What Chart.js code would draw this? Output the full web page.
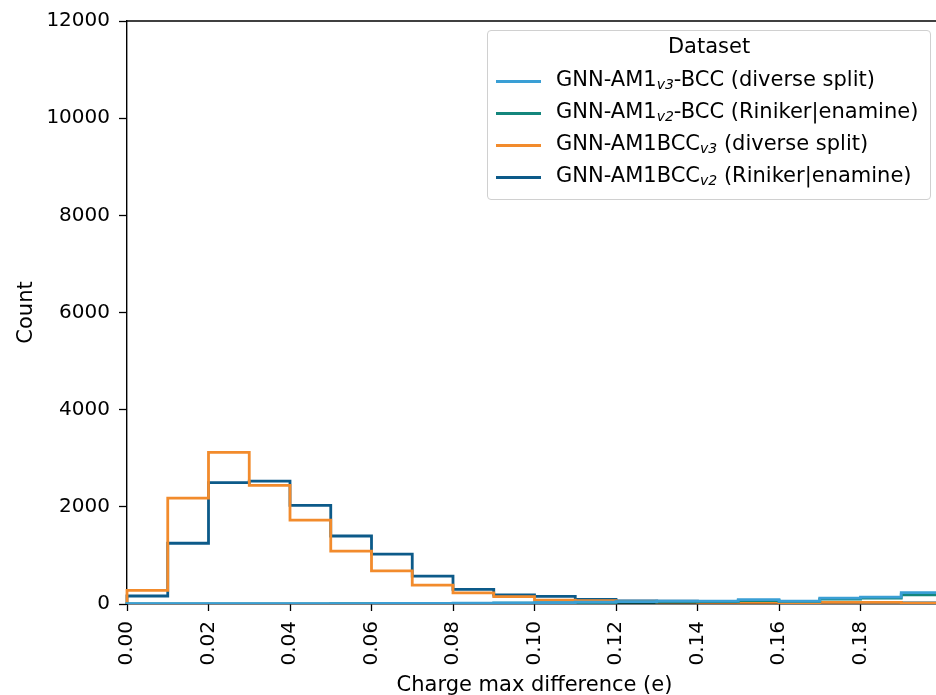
<!DOCTYPE html>
<html>
<head>
<meta charset="utf-8">
<script src="https://cdn.jsdelivr.net/npm/chart.js@4.4.1/dist/chart.umd.min.js"></script>
<style>
  html, body { margin: 0; padding: 0; background: #fff; overflow: hidden; }
  #wrap { position: relative; width: 936px; height: 695px; overflow: hidden; }
  #chart { position: absolute; left: 0; top: 0; }
  #legend {
    position: absolute; left: 487px; top: 30px; width: 444px; height: 170px;
    border: 1px solid #d0d0d0; border-radius: 4px; background: rgba(255,255,255,0.8);
    font-family: "DejaVu Sans", sans-serif; font-size: 21px; color: #000; box-sizing: border-box;
  }
  #legend .title { text-align: center; margin-top: 3px; height: 33px; }
  #legend .row { position: relative; height: 32px; white-space: nowrap; }
  #legend .swatch { position: absolute; left: 8px; top: 13px; width: 45px; height: 3px; }
  #legend .text { position: absolute; left: 68px; top: 0; }
  #legend sub { font-size: 14px; font-style: italic; vertical-align: -3px; }
</style>
</head>
<body>
<div id="wrap">
  <canvas id="chart" width="950" height="695"></canvas>
  <div id="legend"></div>
</div>
<script>
// Histogram bin edges (charge max difference, e)
const binEdges = [0, 0.01, 0.02, 0.03, 0.04, 0.05, 0.06, 0.07, 0.08, 0.09, 0.10,
  0.11, 0.12, 0.13, 0.14, 0.15, 0.16, 0.17, 0.18, 0.19, 0.20];

// Counts per bin
const am1v3Diverse = [5, 5, 5, 5, 5, 8, 10, 12, 20, 25, 30, 40, 50, 60, 60, 90, 60, 120, 140, 235];
const am1v2Riniker = [3, 3, 3, 3, 4, 5, 6, 8, 12, 18, 22, 30, 40, 45, 50, 70, 55, 100, 120, 190];
const bccV3Diverse = [280, 2180, 3120, 2440, 1725, 1090, 680, 390, 230, 150, 80, 70, 50, 40, 35, 35, 30, 35, 35, 20];
const bccV2Riniker = [165, 1250, 2500, 2530, 2030, 1400, 1025, 575, 300, 185, 155, 95, 65, 60, 55, 45, 40, 35, 30, 25];

// Legend labels (base, subscript, rest)
const seriesLabels = [
  ['GNN-AM1', 'v3', '-BCC (diverse split)'],
  ['GNN-AM1', 'v2', '-BCC (Riniker|enamine)'],
  ['GNN-AM1BCC', 'v3', ' (diverse split)'],
  ['GNN-AM1BCC', 'v2', ' (Riniker|enamine)']
];
const seriesColors = ['#3a9fd5', '#14867c', '#f28b2c', '#0c5a89'];

const xTicks = [0, 0.02, 0.04, 0.06, 0.08, 0.10, 0.12, 0.14, 0.16, 0.18];
const yTicks = [0, 2000, 4000, 6000, 8000, 10000, 12000];

const FONT = '"DejaVu Sans", sans-serif';

// turn bin counts into an outline for a step histogram
function stepPoints(values) {
  let pts = [{ x: binEdges[0], y: 0 }];
  values.forEach(function(v, i) {
    pts.push({ x: binEdges[i], y: v });
  });
  let last = binEdges[values.length];
  pts.push({ x: last, y: values[values.length - 1] });
  pts.push({ x: last, y: 0 });
  return pts;
}

const allSeries = [am1v3Diverse, am1v2Riniker, bccV3Diverse, bccV2Riniker];

const datasets = allSeries.map(function(values, i) {
  return {
    label: seriesLabels[i].join(''),
    data: stepPoints(values),
    borderColor: seriesColors[i],
    backgroundColor: seriesColors[i],
    borderWidth: 2.8,
    stepped: 'before',
    pointRadius: 0,
    fill: false,
    clip: { left: 4, top: 0, right: 0, bottom: 0 }
  };
});

// top spine of the frame
const frameTop = {
  id: 'frameTop',
  afterDraw(chart) {
    const a = chart.chartArea;
    const c = chart.ctx;
    c.save();
    c.strokeStyle = '#000';
    c.lineWidth = 1.4;
    c.beginPath();
    c.moveTo(a.left, a.top);
    c.lineTo(a.right, a.top);
    c.stroke();
    c.restore();
  }
};

const ctx = document.getElementById('chart').getContext('2d');
const myChart = new Chart(ctx, {
  type: 'line',
  data: { datasets: datasets },
  options: {
    responsive: false,
    animation: false,
    layout: { padding: { left: 0, right: 8, top: 20, bottom: 0 } },
    plugins: {
      legend: { display: false },
      tooltip: { enabled: false }
    },
    scales: {
      x: {
        type: 'linear',
        min: 0,
        max: 0.2,
        z: 1,
        afterBuildTicks(scale) {
          scale.ticks = xTicks.map((v) => ({ value: v }));
        },
        afterFit(scale) { scale.height = 91; },
        border: { display: true, color: '#000', width: 1.4 },
        grid: { drawOnChartArea: false, drawTicks: true, tickLength: 7, color: '#000', tickWidth: 1.3 },
        ticks: {
          color: '#000',
          font: { family: FONT, size: 20 },
          minRotation: 90,
          maxRotation: 90,
          padding: 10,
          callback: (v) => Number(v).toFixed(2)
        },
        title: {
          display: true,
          text: 'Charge max difference (e)',
          color: '#000',
          font: { family: FONT, size: 21 },
          padding: { top: 0, bottom: -3 }
        }
      },
      y: {
        min: 0,
        max: 12000,
        z: 1,
        afterBuildTicks(scale) {
          scale.ticks = yTicks.map((v) => ({ value: v }));
        },
        afterFit(scale) { scale.width = 127; },
        border: { display: true, color: '#000', width: 1.4 },
        grid: { drawOnChartArea: false, drawTicks: true, tickLength: 8, color: '#000', tickWidth: 1.3 },
        ticks: {
          color: '#000',
          font: { family: FONT, size: 20 },
          padding: 9,
          callback: (v) => String(v)
        },
        title: {
          display: true,
          text: 'Count',
          color: '#000',
          font: { family: FONT, size: 21 },
          padding: { top: 14, bottom: 0 }
        }
      }
    }
  },
  plugins: [frameTop]
});

// legend with subscripts, built from the labels
const legendBox = document.getElementById('legend');
let html = '<div class="title">Dataset</div>';
seriesLabels.forEach(function(parts, i) {
  html += '<div class="row"><div class="swatch" style="background:' + seriesColors[i] + '"></div>' +
    '<div class="text">' + parts[0] + '<sub>' + parts[1] + '</sub>' + parts[2] + '</div></div>';
});
legendBox.innerHTML = html;
</script>
</body>
</html>
